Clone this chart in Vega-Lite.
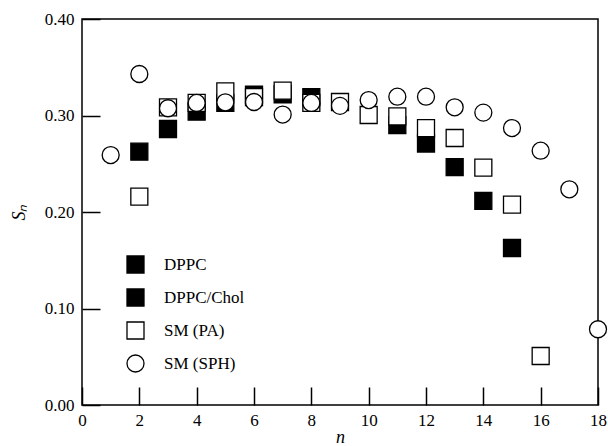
{
  "$schema": "https://vega.github.io/schema/vega-lite/v6.json",
  "width": 516,
  "height": 386,
  "autosize": {"type": "none"},
  "padding": {"left": 82, "top": 19, "right": 10, "bottom": 41},
  "background": "white",
  "config": {
    "view": {"stroke": "black", "strokeWidth": 1.5},
    "font": "Liberation Serif"
  },
  "data": {
    "values": [
      {"n": 2, "s": 0.2625, "series": "DPPC"},
      {"n": 3, "s": 0.286, "series": "DPPC"},
      {"n": 4, "s": 0.304, "series": "DPPC"},
      {"n": 5, "s": 0.313, "series": "DPPC"},
      {"n": 6, "s": 0.3215, "series": "DPPC"},
      {"n": 7, "s": 0.322, "series": "DPPC"},
      {"n": 8, "s": 0.319, "series": "DPPC"},
      {"n": 11, "s": 0.29, "series": "DPPC"},
      {"n": 12, "s": 0.271, "series": "DPPC"},
      {"n": 13, "s": 0.2465, "series": "DPPC"},
      {"n": 14, "s": 0.2115, "series": "DPPC"},
      {"n": 15, "s": 0.1627, "series": "DPPC"},
      {"n": 2, "s": 0.216, "series": "SM (PA)"},
      {"n": 3, "s": 0.3085, "series": "SM (PA)"},
      {"n": 4, "s": 0.313, "series": "SM (PA)"},
      {"n": 5, "s": 0.325, "series": "SM (PA)"},
      {"n": 6, "s": 0.319, "series": "SM (PA)"},
      {"n": 7, "s": 0.3257, "series": "SM (PA)"},
      {"n": 8, "s": 0.313, "series": "SM (PA)"},
      {"n": 9, "s": 0.314, "series": "SM (PA)"},
      {"n": 10, "s": 0.3005, "series": "SM (PA)"},
      {"n": 11, "s": 0.299, "series": "SM (PA)"},
      {"n": 12, "s": 0.287, "series": "SM (PA)"},
      {"n": 13, "s": 0.2767, "series": "SM (PA)"},
      {"n": 14, "s": 0.246, "series": "SM (PA)"},
      {"n": 15, "s": 0.2076, "series": "SM (PA)"},
      {"n": 16, "s": 0.0508, "series": "SM (PA)"},
      {"n": 1, "s": 0.259, "series": "SM (SPH)"},
      {"n": 2, "s": 0.343, "series": "SM (SPH)"},
      {"n": 3, "s": 0.3075, "series": "SM (SPH)"},
      {"n": 4, "s": 0.313, "series": "SM (SPH)"},
      {"n": 5, "s": 0.3137, "series": "SM (SPH)"},
      {"n": 6, "s": 0.314, "series": "SM (SPH)"},
      {"n": 7, "s": 0.301, "series": "SM (SPH)"},
      {"n": 8, "s": 0.313, "series": "SM (SPH)"},
      {"n": 9, "s": 0.31, "series": "SM (SPH)"},
      {"n": 10, "s": 0.316, "series": "SM (SPH)"},
      {"n": 11, "s": 0.3195, "series": "SM (SPH)"},
      {"n": 12, "s": 0.3195, "series": "SM (SPH)"},
      {"n": 13, "s": 0.3085, "series": "SM (SPH)"},
      {"n": 14, "s": 0.303, "series": "SM (SPH)"},
      {"n": 15, "s": 0.287, "series": "SM (SPH)"},
      {"n": 16, "s": 0.2635, "series": "SM (SPH)"},
      {"n": 17, "s": 0.2235, "series": "SM (SPH)"},
      {"n": 18, "s": 0.0785, "series": "SM (SPH)"}
    ]
  },
  "mark": {"type": "point", "stroke": "black", "strokeWidth": 1.3, "opacity": 1, "size": 289},
  "encoding": {
    "x": {
      "field": "n", "type": "quantitative",
      "scale": {"domain": [0, 18], "nice": false, "zero": false},
      "axis": {
        "orient": "bottom",
        "values": [0, 2, 4, 6, 8, 10, 12, 14, 16, 18],
        "format": "d",
        "gridOpacity": 0,
        "domain": false,
        "ticks": true, "tickColor": "black", "tickWidth": 1.5, "tickSize": -18,
        "labelFont": "Liberation Serif", "labelFontSize": 17, "labelColor": "black",
        "labelFlush": false,
        "labelPadding": 25,
        "title": "n",
        "titleFont": "Liberation Serif", "titleFontSize": 18, "titleFontWeight": "normal", "titleFontStyle": "italic", "titleColor": "black",
        "titlePadding": 0
      }
    },
    "y": {
      "field": "s", "type": "quantitative",
      "scale": {"domain": [0, 0.4], "nice": false, "zero": false},
      "axis": {
        "orient": "left",
        "values": [0, 0.1, 0.2, 0.3, 0.4],
        "format": ".2f",
        "gridOpacity": 0,
        "domain": false,
        "ticks": true, "tickColor": "black", "tickWidth": 1.5, "tickSize": -18,
        "labelFont": "Liberation Serif", "labelFontSize": 17, "labelColor": "black",
        "labelFlush": false,
        "labelPadding": 26,
        "title": "Sₙ",
        "titleFont": "Liberation Serif", "titleFontSize": 18, "titleFontWeight": "normal", "titleFontStyle": "italic", "titleColor": "black",
        "titlePadding": 16
      }
    },
    "fill": {
      "field": "series", "type": "nominal",
      "scale": {"domain": ["DPPC", "DPPC/Chol", "SM (PA)", "SM (SPH)"], "range": ["black", "black", "white", "white"]},
      "legend": {
        "orient": "none", "legendX": 44, "legendY": 236, "title": null, "padding": 0,
        "symbolSize": 289, "symbolStrokeColor": "black", "symbolStrokeWidth": 1.3, "symbolOpacity": 1,
        "labelFont": "Liberation Serif", "labelFontSize": 17, "labelColor": "black",
        "labelOffset": 19, "rowPadding": 10,
        "encode": {"symbols": {"update": {"stroke": {"value": "black"}, "strokeWidth": {"value": 1.3}}}}
      }
    },
    "shape": {
      "field": "series", "type": "nominal",
      "scale": {"domain": ["DPPC", "DPPC/Chol", "SM (PA)", "SM (SPH)"], "range": ["square", "square", "square", "circle"]},
      "legend": {
        "orient": "none", "legendX": 44, "legendY": 236, "title": null, "padding": 0,
        "symbolSize": 289, "symbolStrokeColor": "black", "symbolStrokeWidth": 1.3, "symbolOpacity": 1,
        "labelFont": "Liberation Serif", "labelFontSize": 17, "labelColor": "black",
        "labelOffset": 19, "rowPadding": 10,
        "encode": {"symbols": {"update": {"stroke": {"value": "black"}, "strokeWidth": {"value": 1.3}}}}
      }
    }
  }
}
